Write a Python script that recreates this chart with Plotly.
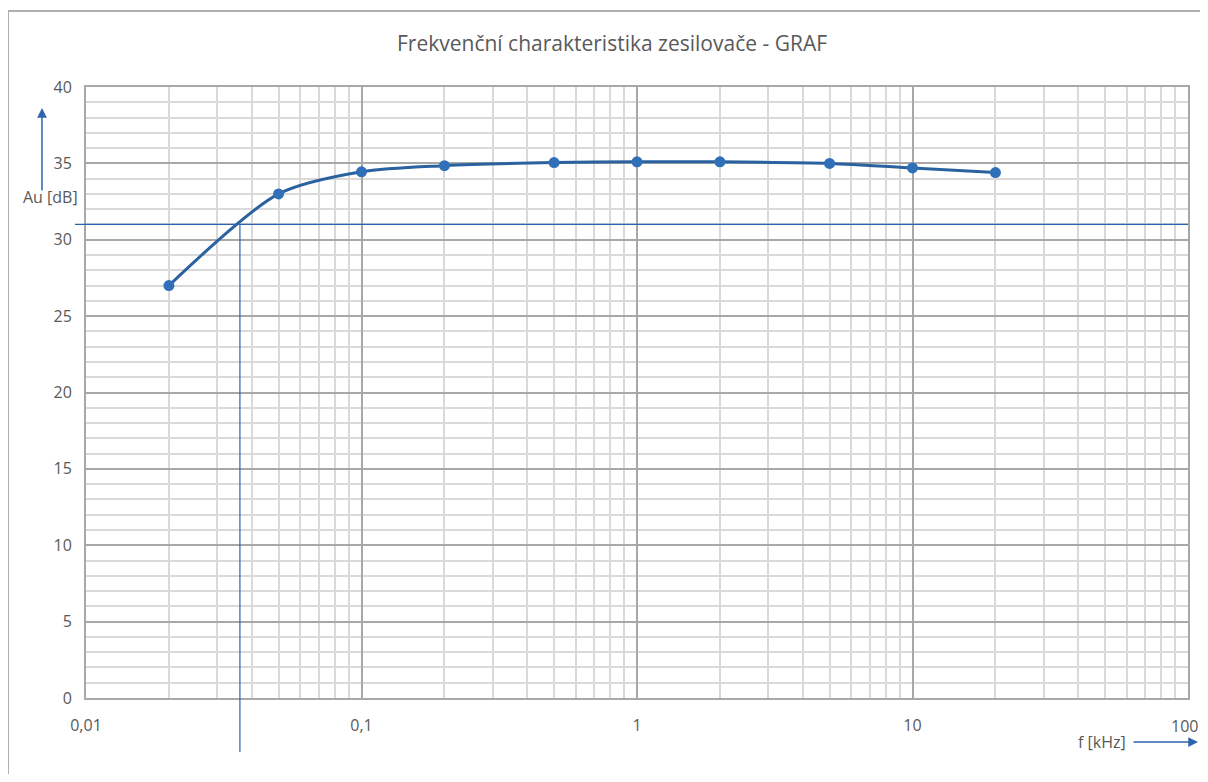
import plotly.graph_objects as go

# Data
freq_khz = [0.02, 0.05, 0.1, 0.2, 0.5, 1, 2, 5, 10, 20]
gain_db = [27.0, 33.0, 34.45, 34.85, 35.05, 35.1, 35.1, 35.0, 34.7, 34.4]
x_tick_vals = [0.01, 0.1, 1, 10, 100]
x_tick_text = ["0,01", "0,1", "1", "10", "100"]
y_tick_vals = [0, 5, 10, 15, 20, 25, 30, 35, 40]
ref_gain_db = 31.0        # -3 dB reference level
cutoff_freq_khz = 0.0362  # lower cutoff frequency

OFF = 8  # page body margin offset
W, H = 1208 - 2 * OFF, 782 - 2 * OFF
# plot area in reference pixels: x 86..1188, y 87..698
L = 86 - OFF
T = 87 - OFF
R = W - (1188 - OFF)
B = H - (698 - OFF)
PW, PH = W - L - R, H - T - B

def px(xp):
    return (xp - OFF - L) / PW

def py(yp):
    return (H - B - (yp - OFF)) / PH

minor_x = [m * 10 ** e for e in range(-2, 2) for m in range(2, 10)]
font = "Open Sans, Liberation Sans, sans-serif"
txt = "#595959"

fig = go.Figure()
fig.add_trace(go.Scatter(
    x=freq_khz, y=gain_db, mode="lines+markers",
    line=dict(color="#2a62a0", width=3, shape="spline", smoothing=0.8),
    marker=dict(color="#3070b8", size=11),
    showlegend=False,
))

# last x tick label sits at the figure edge; draw it as an annotation nudged inward
axis_tick_text = x_tick_text[:-1] + [""]

fig.update_layout(
    width=W, height=H,
    margin=dict(l=L, r=R, t=T, b=B, autoexpand=False),
    paper_bgcolor="white", plot_bgcolor="white",
    title=dict(text="Frekvenční charakteristika zesilovače - GRAF",
               xref="paper", x=px(612), xanchor="center",
               yref="container", y=1 - (44 - OFF) / H, yanchor="middle",
               font=dict(family=font, size=21, color=txt)),
    font=dict(family=font, size=16, color=txt),
    xaxis=dict(
        type="log", range=[-2, 2], automargin=False, ticklabeloverflow="allow",
        tickvals=x_tick_vals, ticktext=axis_tick_text,
        showgrid=True, gridcolor="#a8a8a8", gridwidth=1.5,
        minor=dict(tickvals=minor_x, showgrid=True, gridcolor="#d9d9d9", gridwidth=2),
        showline=True, linecolor="#a8a8a8", linewidth=2, mirror=True,
        ticks="", ticklabelstandoff=12, zeroline=False,
        tickfont=dict(size=16, color=txt),
    ),
    yaxis=dict(
        range=[0, 40], tickvals=y_tick_vals, automargin=False, ticklabeloverflow="allow",
        showgrid=True, gridcolor="#a8a8a8", gridwidth=1.5,
        minor=dict(dtick=1, showgrid=True, gridcolor="#d9d9d9", gridwidth=2),
        showline=True, linecolor="#a8a8a8", linewidth=2, mirror=True,
        ticks="", ticklabelstandoff=9, zeroline=False,
        tickfont=dict(size=16, color=txt),
    ),
)

fig.add_annotation(xref="x", yref="paper", x=2, y=py(726),
                   text=x_tick_text[-1], showarrow=False, xshift=-4,
                   font=dict(family=font, size=16, color=txt),
                   xanchor="center", yanchor="middle")

blue = "#2e64ad"
# reference lines
fig.add_shape(type="line", xref="paper", yref="y",
              x0=px(75), x1=1, y0=ref_gain_db, y1=ref_gain_db,
              line=dict(color=blue, width=1.2), layer="above")
fig.add_shape(type="line", xref="x", yref="paper",
              x0=cutoff_freq_khz, x1=cutoff_freq_khz,
              y0=py(752), y1=ref_gain_db / 40,
              line=dict(color=blue, width=1.2), layer="above")

# chart-area border (left and top visible)
fig.add_shape(type="line", xref="paper", yref="paper",
              x0=px(8), x1=px(8), y0=py(11), y1=py(782),
              line=dict(color="#b0b0b0", width=2))
fig.add_shape(type="line", xref="paper", yref="paper",
              x0=px(8), x1=px(1208), y0=py(11), y1=py(11),
              line=dict(color="#b0b0b0", width=2))

# axis arrows and labels
fig.add_annotation(xref="paper", yref="paper", x=px(42), y=py(108),
                   ax=0, ay=84, axref="pixel", ayref="pixel",
                   showarrow=True, arrowhead=2, arrowsize=1.3, arrowwidth=1.5,
                   arrowcolor=blue, text="")
fig.add_annotation(xref="paper", yref="paper", x=px(50), y=py(197),
                   text="Au [dB]", showarrow=False,
                   font=dict(family=font, size=16, color=txt),
                   xanchor="center", yanchor="middle")
fig.add_annotation(xref="paper", yref="paper", x=px(1198), y=py(742),
                   ax=-66, ay=0, axref="pixel", ayref="pixel",
                   showarrow=True, arrowhead=2, arrowsize=1.3, arrowwidth=1.5,
                   arrowcolor=blue, text="")
fig.add_annotation(xref="paper", yref="paper", x=px(1128), y=py(742),
                   text="f [kHz]", showarrow=False,
                   font=dict(family=font, size=16, color=txt),
                   xanchor="right", yanchor="middle")

fig.write_html("out.html")
